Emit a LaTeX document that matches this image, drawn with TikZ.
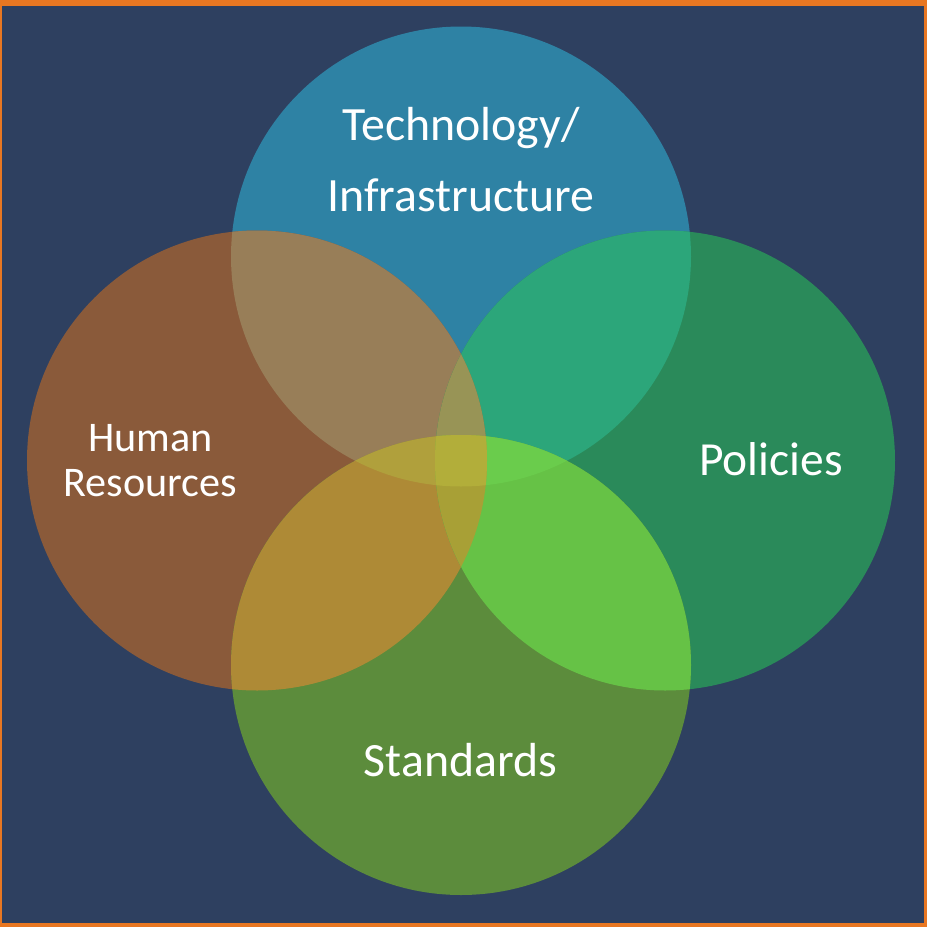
\documentclass[tikz,border=0pt]{standalone}
\usepackage{fontspec}
\setmainfont{Carlito}
\begin{document}
\begin{tikzpicture}[x=1pt,y=-1pt]
\definecolor{frame}{RGB}{232,119,34}
\definecolor{bg}{RGB}{46,64,96}
\definecolor{cT}{RGB}{46,130,164}
\definecolor{cL}{RGB}{138,90,58}
\definecolor{cR}{RGB}{42,138,90}
\definecolor{cB}{RGB}{92,140,60}
\definecolor{cTL}{RGB}{152,126,88}
\definecolor{cTR}{RGB}{44,166,122}
\definecolor{cTLR}{RGB}{152,148,86}
\definecolor{cLB}{RGB}{174,138,54}
\definecolor{cRB}{RGB}{102,194,70}
\definecolor{cLRB}{RGB}{168,160,54}
\definecolor{cTLB}{RGB}{176,160,60}
\definecolor{cTRB}{RGB}{106,204,76}
\definecolor{cTB}{RGB}{110,150,80}
\definecolor{cALL}{RGB}{178,174,58}
\definecolor{cLR}{RGB}{120,120,70}
\tikzset{lbl/.style={text=white,align=center,inner sep=0pt,anchor=base}}
\fill[frame] (0,0) rectangle (927,927);
\fill[bg] (2,6) rectangle (924,923);
\coordinate (T) at (461,256.5);
\coordinate (L) at (257,460.5);
\coordinate (R) at (665,460.5);
\coordinate (B) at (461,665);
\def\rr{230}
% single circles
\fill[cT] (T) circle (\rr);
\fill[cL] (L) circle (\rr);
\fill[cR] (R) circle (\rr);
\fill[cB] (B) circle (\rr);
% pairwise
\begin{scope}\clip (T) circle (\rr); \fill[cTL] (L) circle (\rr); \fill[cTR] (R) circle (\rr); \fill[cTB] (B) circle (\rr);\end{scope}
\begin{scope}\clip (L) circle (\rr); \fill[cLB] (B) circle (\rr); \fill[cLR] (R) circle (\rr);\end{scope}
\begin{scope}\clip (R) circle (\rr); \fill[cRB] (B) circle (\rr);\end{scope}
% triples
\begin{scope}\clip (T) circle (\rr); \clip (L) circle (\rr); \fill[cTLR] (R) circle (\rr); \fill[cTLB] (B) circle (\rr);\end{scope}
\begin{scope}\clip (T) circle (\rr); \clip (R) circle (\rr); \fill[cTRB] (B) circle (\rr);\end{scope}
\begin{scope}\clip (L) circle (\rr); \clip (R) circle (\rr); \fill[cLRB] (B) circle (\rr);\end{scope}
% all four
\begin{scope}\clip (T) circle (\rr); \clip (L) circle (\rr); \clip (R) circle (\rr); \fill[cALL] (B) circle (\rr);\end{scope}
% labels
\node[lbl,font=\fontsize{47.8}{71}\selectfont] (tlab) at (461,211) {Technology/\\Infrastructure};
\node[lbl,font=\fontsize{42.2}{45}\selectfont] (hlab) at (150.5,496) {Human\\Resources};
\node[lbl,font=\fontsize{47.5}{56}\selectfont] (plab) at (771,475) {Policies};
\node[lbl,font=\fontsize{47.8}{56}\selectfont] (slab) at (460.5,776) {Standards};
\end{tikzpicture}
\end{document}
